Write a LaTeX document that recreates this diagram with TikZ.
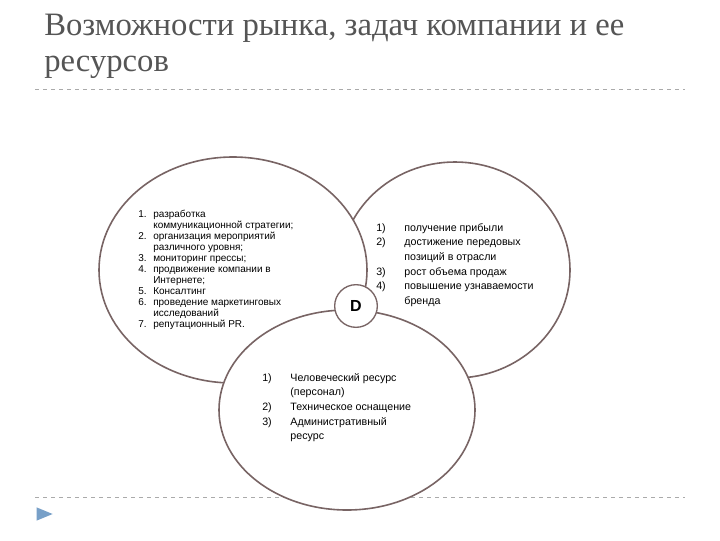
\documentclass[tikz,border=0pt]{standalone}
\usetikzlibrary{shapes.geometric}
\usepackage{fontspec}
\setmainfont{Liberation Sans}
\newfontfamily\titlefont{Liberation Serif}
\usepackage{array}
\definecolor{ring}{RGB}{120,100,100}
\definecolor{titlegray}{RGB}{85,85,85}
\definecolor{rule}{RGB}{170,170,170}
\definecolor{tri}{RGB}{120,160,200}
\begin{document}
\begin{tikzpicture}[x=0.75pt,y=-0.75pt,
  ring/.style={draw=ring,line width=1.2pt,fill=white},
  lst/.style={anchor=north west,inner sep=0pt,align=left},
  sep/.style={draw=rule,dashed,line width=0.5pt}]
\useasboundingbox (0,0) rectangle (720,540);
\node[lst,text=titlegray,font=\titlefont\fontsize{24.5}{27}\selectfont] (title) at (44,14)
 {Возможности рынка, задач компании и ее\\ресурсов};
\coordinate (l1) at (35,89); \coordinate (l2) at (685,89);
\draw[sep] (l1) -- (l2);
\coordinate (b1) at (35,497); \coordinate (b2) at (685,497);
\draw[sep] (b1) -- (b2);
\node[fill=tri,isosceles triangle,minimum width=10pt,minimum height=7pt,inner sep=0pt] (tr) at (41,514) {};
% ellipses
\draw[ring] (455,270) ellipse [x radius=115, y radius=108];
\draw[ring] (233,270) ellipse [x radius=134, y radius=113];
\draw[ring] (347,410) ellipse [x radius=128, y radius=100];
\node[circle,draw=ring,line width=1pt,fill=white,minimum size=32pt,inner sep=0pt,font=\fontsize{12}{12}\selectfont\bfseries] (D) at (356,306) {D};
% lists
\renewcommand{\arraystretch}{1}
\node[lst,font=\fontsize{7.5}{8.3}\selectfont] (left) at (138,209)
{\begin{tabular}{@{}r@{\hspace{5pt}}l@{}}
1.&разработка\\
 &коммуникационной стратегии;\\
2.&организация мероприятий\\
 &различного уровня;\\
3.&мониторинг прессы;\\
4.&продвижение компании в\\
 &Интернете;\\
5.&Консалтинг\\
6.&проведение маркетинговых\\
 &исследований\\
7.&репутационный PR.
\end{tabular}};
\node[lst,font=\fontsize{8}{10.9}\selectfont] (right) at (376,221)
{\begin{tabular}{@{}r@{\hspace{14pt}}l@{}}
1)&получение прибыли\\
2)&достижение передовых\\
 &позиций в отрасли\\
3)&рост объема продаж\\
4)&повышение узнаваемости\\
 &бренда
\end{tabular}};
\node[lst,font=\fontsize{8}{10.9}\selectfont] (bottom) at (262,371)
{\begin{tabular}{@{}r@{\hspace{14pt}}l@{}}
1)&Человеческий ресурс\\
 &(персонал)\\
2)&Техническое оснащение\\
3)&Административный\\
 &ресурс
\end{tabular}};
\end{tikzpicture}
\end{document}
